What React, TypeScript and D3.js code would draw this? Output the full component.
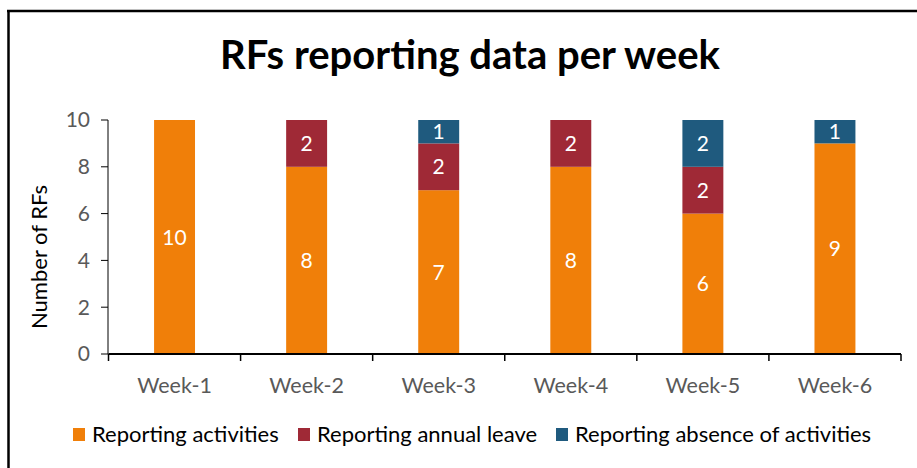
import React from "react";
import * as d3 from "d3";

const weeks = ["Week-1", "Week-2", "Week-3", "Week-4", "Week-5", "Week-6"];
const seriesNames = ["Reporting activities", "Reporting annual leave", "Reporting absence of activities"];
const activities = [10, 8, 7, 8, 6, 9];
const annualLeave = [0, 2, 2, 2, 2, 0];
const absence = [0, 0, 1, 0, 2, 1];
const yTicks = [0, 2, 4, 6, 8, 10];
const colors = ["#F07F09", "#9F2936", "#1F5A7E"];
const title = "RFs reporting data per week";
const yTitle = "Number of RFs";

const W = 917, H = 468;
const FONT = "Lato, 'Open Sans', sans-serif";

export default function App() {
  const x = d3.scaleBand<string>().domain(weeks).range([108.5, 901]).paddingInner(0.69).paddingOuter(0.345);
  const y = d3.scaleLinear().domain([0, 10]).range([354, 120]);
  const table = weeks.map((w, i) => ({ week: w, a: activities[i], b: annualLeave[i], c: absence[i] }));
  const stack = d3.stack<any>().keys(["a", "b", "c"])(table);
  const step = x.step();
  const bounds = d3.range(weeks.length + 1).map((i) => x.range()[0] + i * step);
  const legendX = [73, 298, 556];
  return (
    <svg width={W} height={H} style={{ position: "absolute", left: 0, top: 0, background: "#fff" }} fontFamily={FONT}>
      <rect x={0} y={0} width={W} height={H} fill="#fff" />
      <line x1={8.5} x2={8.5} y1={10} y2={H} stroke="#000" strokeWidth={2.5} />
      <line x1={7} x2={W} y1={11} y2={11} stroke="#000" strokeWidth={2.5} />
      <text x={470} y={69} textAnchor="middle" fontSize={40} fontWeight="bold" fill="#000">{title}</text>
      {/* y axis */}
      <line x1={108} x2={108} y1={y(10)} y2={y(0)} stroke="#000" strokeWidth={1} />
      {yTicks.map((t) => (
        <g key={t}>
          <line x1={101} x2={108} y1={y(t)} y2={y(t)} stroke="#000" strokeWidth={1} />
          <text x={90} y={y(t)} dy="0.35em" textAnchor="end" fontSize={21} fill="#595959">{t}</text>
        </g>
      ))}
      <text transform={`translate(47,${257}) rotate(-90)`} textAnchor="middle" fontSize={22} fill="#000">{yTitle}</text>
      {/* bars */}
      {stack.map((s, si) => (
        <g key={si} fill={colors[si]}>
          {s.map((d, i) => d[1] - d[0] > 0 ? (
            <g key={i}>
              <rect x={x(weeks[i])} y={y(d[1])} width={x.bandwidth()} height={y(d[0]) - y(d[1])} />
              <text x={(x(weeks[i]) as number) + x.bandwidth() / 2} y={(y(d[0]) + y(d[1])) / 2} dy="0.36em" textAnchor="middle" fontSize={21} fill="#fff">{d[1] - d[0]}</text>
            </g>
          ) : null)}
        </g>
      ))}
      {/* x axis */}
      <line x1={bounds[0]} x2={bounds[bounds.length - 1]} y1={354} y2={354} stroke="#000" strokeWidth={2} />
      {bounds.map((b, i) => (
        <line key={i} x1={b} x2={b} y1={354} y2={361} stroke="#000" strokeWidth={1.5} />
      ))}
      {weeks.map((w) => (
        <text key={w} x={(x(w) as number) + x.bandwidth() / 2} y={393} textAnchor="middle" fontSize={21.5} fill="#595959">{w}</text>
      ))}
      {/* legend */}
      {seriesNames.map((n, i) => (
        <g key={n}>
          <rect x={legendX[i]} y={428} width={12} height={13} fill={colors[i]} />
          <text x={legendX[i] + 19} y={442} fontSize={22} fill="#000">{n}</text>
        </g>
      ))}
    </svg>
  );
}
